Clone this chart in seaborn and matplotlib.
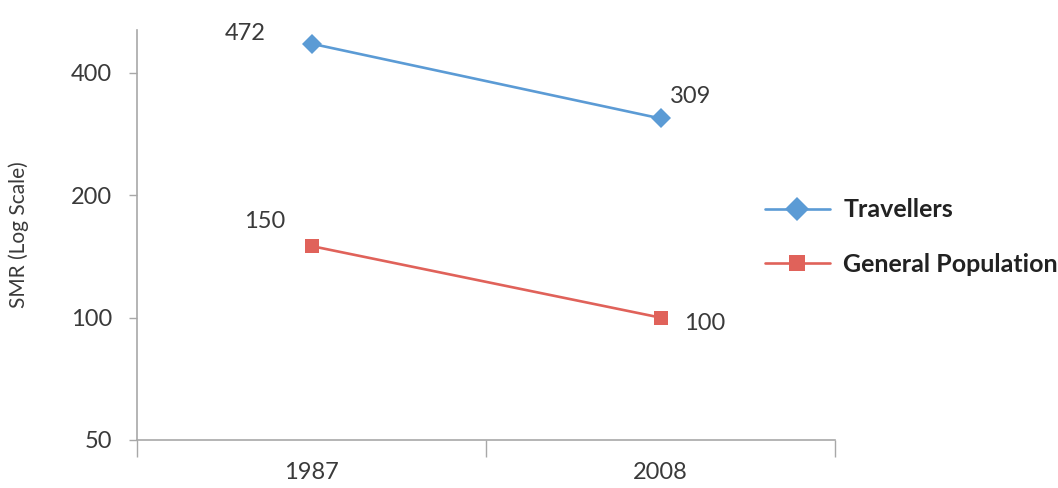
import numpy as np
import pandas as pd
import matplotlib
matplotlib.use("Agg")
import matplotlib.pyplot as plt
import seaborn as sns
from matplotlib.ticker import FixedLocator, NullFormatter, NullLocator

years = ["1987", "2008"]
travellers = [472, 309]
general_pop = [150, 100]
series_names = ["Travellers", "General Population"]
y_ticks = [50, 100, 200, 400]

sns.set_theme(style="white")
plt.rcParams['font.family'] = ['Lato', 'DejaVu Sans']

df = pd.DataFrame({
    "pos": list(range(len(years))) * 2,
    "year": years * 2,
    "smr": travellers + general_pop,
    "group": [series_names[0]] * len(years) + [series_names[1]] * len(years),
})

colors = {"Travellers": "#5b9bd5", "General Population": "#e0625a"}
markers = {"Travellers": "D", "General Population": "s"}

fig = plt.figure(figsize=(10.58, 4.88), dpi=100)
ax = fig.add_axes([137 / 1058, (488 - 440) / 488, (835 - 137) / 1058, (440 - 30) / 488])

sns.lineplot(data=df, x="pos", y="smr", hue="group", style="group",
             palette=colors, markers=markers, dashes=False, linewidth=1.9,
             markersize=10, markeredgewidth=0, ax=ax)

ax.set_yscale("log")
ax.set_ylim(50, 510)
ax.set_xlim(-0.5, len(years) - 0.5)
ax.yaxis.set_major_locator(FixedLocator(y_ticks))
ax.set_yticklabels([str(t) for t in y_ticks])
ax.yaxis.set_minor_locator(NullLocator())

# category labels between boundary ticks
ax.set_xticks(np.arange(-0.5, len(years), 1.0))
ax.xaxis.set_major_formatter(NullFormatter())
ax.set_xticks(range(len(years)), minor=True)
ax.set_xticklabels(years, minor=True)
ax.tick_params(axis="x", which="major", bottom=True, length=12, width=1, color="#a8a8a8", direction="out")
ax.tick_params(axis="x", which="minor", bottom=True, length=0, pad=16, labelsize=17, labelcolor="#3a3a3a")
ax.tick_params(axis="y", which="major", left=True, length=6, width=1, color="#a8a8a8", direction="out",
               pad=12, labelsize=17, labelcolor="#3a3a3a")

for s in ["top", "right"]:
    ax.spines[s].set_visible(False)
for s in ["left", "bottom"]:
    ax.spines[s].set_color("#a8a8a8")
    ax.spines[s].set_linewidth(1.2)

ax.set_xlabel("")
ax.set_ylabel("SMR (Log Scale)", fontsize=15, color="#3a3a3a", labelpad=30)

# data labels
offsets = {
    ("Travellers", 0): (-48, 7), ("Travellers", 1): (22, 16),
    ("General Population", 0): (-34, 18), ("General Population", 1): (32, -4),
}
for _, r in df.iterrows():
    ax.annotate(str(r["smr"]), (r["pos"], r["smr"]), textcoords="offset points",
                xytext=offsets[(r["group"], r["pos"])], ha="center", va="center",
                fontsize=17, color="#3a3a3a")

handles, labels = ax.get_legend_handles_labels()
ax.get_legend().remove()
for h in handles:
    h.set_markersize(12)
leg = fig.legend(handles, labels, loc="center left", bbox_to_anchor=(752 / 1058, 1 - 237 / 488),
                 frameon=False, handlelength=2.6, handletextpad=0.55, labelspacing=1.25,
                 borderpad=0, prop={"size": 18, "weight": "bold"})
for t in leg.get_texts():
    t.set_color("#222222")

fig.savefig("out.png", dpi=100)
